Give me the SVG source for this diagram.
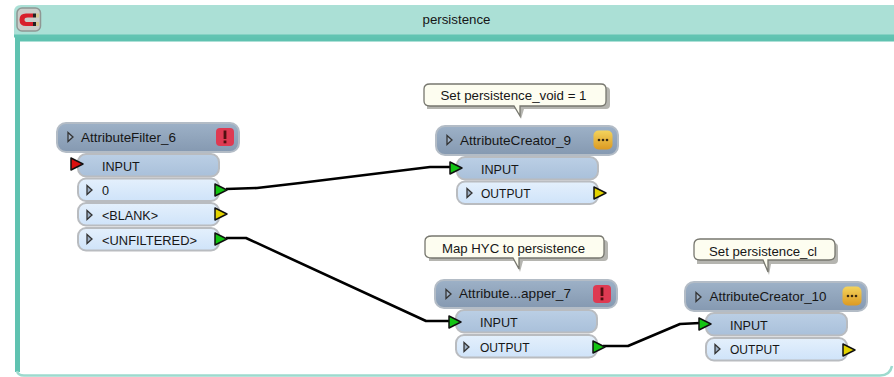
<svg xmlns="http://www.w3.org/2000/svg" width="894" height="377" viewBox="0 0 894 377">
<defs>
<linearGradient id="hdr" x1="0" y1="0" x2="0" y2="1"><stop offset="0" stop-color="#9db1c7"/><stop offset="1" stop-color="#8599b1"/></linearGradient>
<linearGradient id="inp" x1="0" y1="0" x2="0" y2="1"><stop offset="0" stop-color="#bbcfe5"/><stop offset="1" stop-color="#a9c0da"/></linearGradient>
<linearGradient id="out" x1="0" y1="0" x2="0" y2="1"><stop offset="0" stop-color="#e4f0fc"/><stop offset="1" stop-color="#cfe3f9"/></linearGradient>
<linearGradient id="ora" x1="0" y1="0" x2="0" y2="1"><stop offset="0" stop-color="#f3d35c"/><stop offset="1" stop-color="#dc9a22"/></linearGradient>
<g id="tri"><path d="M0,-6 L12,0 L0,6 Z" stroke="#111" stroke-width="1.5" stroke-linejoin="round"/></g>
<g id="exp"><path d="M0,-4.500 L5,0 L0,4.500 Z" fill="#9fb1c6" stroke="#333" stroke-width="1.3"/></g>
<g id="err"><rect x="-9" y="-9" width="18" height="18" rx="4" fill="#de3a52"/><rect x="-1.400" y="-6.500" width="2.800" height="8.500" fill="#501010"/><rect x="-1.400" y="3.500" width="2.800" height="2.800" fill="#501010"/></g>
<g id="warn"><rect x="-9.500" y="-9.500" width="19" height="19" rx="5" fill="url(#ora)"/><circle cx="-4" r="1.300" fill="#3a2a10"/><circle cx="0" r="1.300" fill="#3a2a10"/><circle cx="4" r="1.300" fill="#3a2a10"/></g>
</defs>
<style>
text{font-family:"Liberation Sans",Arial,sans-serif;font-size:13.3px;fill:#161616}
.p{font-size:12.6px}
.h{fill:url(#hdr);stroke:#b3bcc6;stroke-width:2}
.i{fill:url(#inp);stroke:#b9bcc0;stroke-width:2}
.o{fill:url(#out);stroke:#b9bcc0;stroke-width:2}
.c{fill:#fdfdf0;stroke:#77776f;stroke-width:1.3}
.s{fill:#b5b5b0}
.g{fill:#13c413}.y{fill:#e3d300}.r{fill:#d90f0f}
.w{fill:none;stroke:#000;stroke-width:2.600;stroke-linejoin:round}
</style>
<rect width="894" height="377" fill="#fff"/>
<g id="frame">
<path d="M14,376 V40 H894 V376 Z" fill="#fff"/>
<path d="M17.500,372 V39 H894" fill="none" stroke="#5fc2b0" stroke-width="5"/>
<path d="M17,371 Q18,375.500 24,375.500 H880 Q890,375.500 892,366" fill="none" stroke="#9ddace" stroke-width="2.500"/>
<path d="M14,35 V12 Q14,5 21,5 H894 V35 Z" fill="#abe0d6"/>
<rect x="14" y="34.500" width="880" height="3" fill="#62c4b2"/>
<rect x="17" y="8" width="23.500" height="23" rx="5" fill="#c9cdc9" stroke="#8f9794" stroke-width="1.500"/>
<path d="M33,13.500 H26 Q19.500,13.500 19.500,19.700 Q19.500,26 26,26 H33 V22 H27.500 Q24.500,22 24.500,19.700 Q24.500,17.500 27.500,17.500 H33 Z" fill="#d8202c"/>
<rect x="33" y="13.500" width="3" height="4" fill="#222"/><rect x="33" y="22" width="3" height="4" fill="#222"/>
<rect x="36" y="13.500" width="3" height="4" fill="#d6c690"/><rect x="36" y="22" width="3" height="4" fill="#d6c690"/>
<text x="456.500" y="24" text-anchor="middle">persistence</text>
</g>
<g id="connectors">
<path class="w" d="M226,189 L257,188 L300,183 L430,167 L451,167"/>
<path class="w" d="M226,238 L246,238 L426,321 L450,321"/>
<path class="w" d="M603,346 L628,346 L680,324 L700,323"/>
</g>
<g id="AttributeFilter_6">
<rect class="h" x="57" y="123" width="182" height="29" rx="9"/>
<use href="#exp" x="68" y="137"/>
<text x="81" y="142" textLength="95" lengthAdjust="spacingAndGlyphs">AttributeFilter_6</text>
<use href="#err" x="225" y="137"/>
<rect class="i" x="78" y="154" width="141" height="22.500" rx="8"/>
<use href="#tri" x="71" y="164" class="r"/>
<text class="p" x="102" y="170.500">INPUT</text>
<rect class="o" x="78" y="178.500" width="141" height="22.500" rx="8"/>
<use href="#exp" x="87" y="190"/>
<text class="p" x="102" y="195">0</text>
<rect class="o" x="78" y="203" width="141" height="22.500" rx="8"/>
<use href="#exp" x="87" y="215"/>
<text class="p" x="102" y="219.500">&lt;BLANK&gt;</text>
<rect class="o" x="78" y="228" width="141" height="22.500" rx="8"/>
<use href="#exp" x="87" y="239"/>
<text class="p" x="102" y="245" textLength="95" lengthAdjust="spacingAndGlyphs">&lt;UNFILTERED&gt;</text>
<use href="#tri" x="215" y="190" class="g"/>
<use href="#tri" x="215" y="214" class="y"/>
<use href="#tri" x="215" y="239" class="g"/>
</g>
<g id="AttributeCreator_9">
<path class="s" d="M427,87 H606 Q610,87 610,91 V105 Q610,109 606,109 H524 L521,119 L517,109 H427 Z"/>
<path class="c" d="M430,84 H601 Q606,84 606,89 V101 Q606,106 601,106 H520 L520,116 L514,106 H430 Q424,106 424,101 V89 Q424,84 430,84 Z"/>
<text x="440.500" y="100" textLength="146" lengthAdjust="spacingAndGlyphs">Set persistence_void = 1</text>
<rect class="h" x="436" y="126" width="182" height="29" rx="9"/>
<use href="#exp" x="447" y="140"/>
<text x="460" y="145" textLength="111" lengthAdjust="spacingAndGlyphs">AttributeCreator_9</text>
<use href="#warn" x="603" y="140"/>
<rect class="i" x="457" y="157" width="141" height="22.500" rx="8"/>
<use href="#tri" x="450" y="168" class="g"/>
<text class="p" x="481" y="173.500">INPUT</text>
<rect class="o" x="457" y="181.500" width="141" height="22.500" rx="8"/>
<use href="#exp" x="467" y="193"/>
<text class="p" x="481" y="198" textLength="49.500" lengthAdjust="spacingAndGlyphs">OUTPUT</text>
<use href="#tri" x="594" y="193" class="y"/>
</g>
<g id="AttributeMapper_7">
<path class="s" d="M429,240 H604 Q608,240 608,244 V257 Q608,261 604,261 H523 L520,272 L516,261 H429 Z"/>
<path class="c" d="M432,236 H599 Q604,236 604,241 V253 Q604,258 599,258 H519 L519,269 L513,258 H432 Q425,258 425,253 V241 Q425,236 432,236 Z"/>
<text x="442" y="253" textLength="143" lengthAdjust="spacingAndGlyphs">Map HYC to persistence</text>
<rect class="h" x="435" y="280" width="182" height="28" rx="9"/>
<use href="#exp" x="446" y="294"/>
<text x="459" y="298" textLength="112" lengthAdjust="spacingAndGlyphs">Attribute...apper_7</text>
<use href="#err" x="602" y="294"/>
<rect class="i" x="456" y="310" width="141" height="22.500" rx="8"/>
<use href="#tri" x="449" y="322" class="g"/>
<text class="p" x="480" y="327">INPUT</text>
<rect class="o" x="456" y="335" width="141" height="22.500" rx="8"/>
<use href="#exp" x="464" y="347"/>
<text class="p" x="480" y="352" textLength="49.500" lengthAdjust="spacingAndGlyphs">OUTPUT</text>
<use href="#tri" x="593" y="347" class="g"/>
</g>
<g id="AttributeCreator_10">
<path class="s" d="M697,243 H834 Q838,243 838,247 V260 Q838,264 834,264 H771 L769,275 L765,264 H697 Z"/>
<path class="c" d="M700,239 H829 Q835,239 835,245 V255 Q835,260 829,260 H768 L768,272 L763,260 H700 Q694,260 694,255 V245 Q694,239 700,239 Z"/>
<text x="709" y="256" textLength="108" lengthAdjust="spacingAndGlyphs">Set persistence_cl</text>
<rect class="h" x="685" y="282" width="182" height="29" rx="9"/>
<use href="#exp" x="696" y="297"/>
<text x="709.500" y="301" textLength="117" lengthAdjust="spacingAndGlyphs">AttributeCreator_10</text>
<use href="#warn" x="852" y="296"/>
<rect class="i" x="706" y="313" width="141" height="22.500" rx="8"/>
<use href="#tri" x="699" y="324" class="g"/>
<text class="p" x="730" y="330">INPUT</text>
<rect class="o" x="706" y="338" width="141" height="22.500" rx="8"/>
<use href="#exp" x="715" y="349"/>
<text class="p" x="730" y="354" textLength="49.500" lengthAdjust="spacingAndGlyphs">OUTPUT</text>
<use href="#tri" x="843" y="350" class="y"/>
</g>
</svg>
